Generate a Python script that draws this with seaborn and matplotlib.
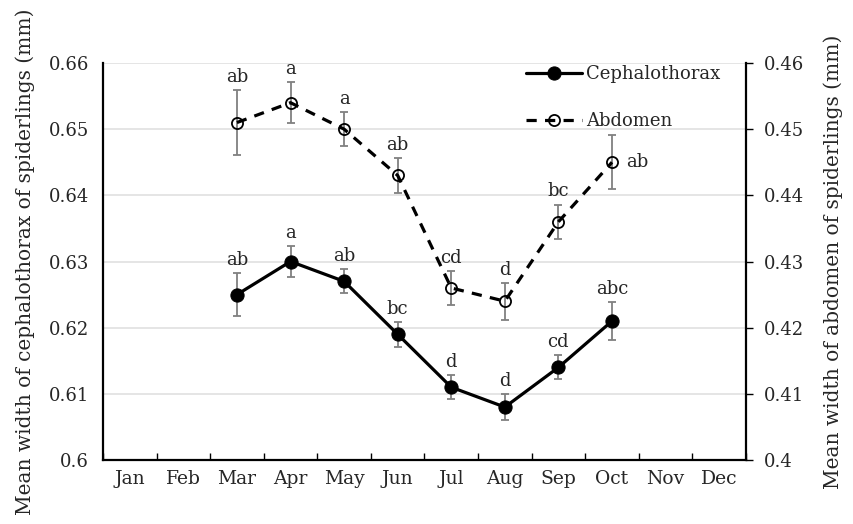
import matplotlib
matplotlib.use("Agg")
import matplotlib.pyplot as plt
import seaborn as sns
import pandas as pd
import numpy as np

months = ["Jan", "Feb", "Mar", "Apr", "May", "Jun", "Jul", "Aug", "Sep", "Oct", "Nov", "Dec"]
data_months = ["Mar", "Apr", "May", "Jun", "Jul", "Aug", "Sep", "Oct"]
ceph_mean = [0.625, 0.630, 0.627, 0.619, 0.611, 0.608, 0.614, 0.621]
ceph_err = [0.0033, 0.0023, 0.0018, 0.0019, 0.0018, 0.0020, 0.0018, 0.0029]
ceph_letters = ["ab", "a", "ab", "bc", "d", "d", "cd", "abc"]
abd_mean = [0.451, 0.454, 0.450, 0.443, 0.426, 0.424, 0.436, 0.445]
abd_err = [0.0049, 0.0031, 0.0026, 0.0026, 0.0025, 0.0028, 0.0026, 0.0041]
abd_letters = ["ab", "a", "a", "ab", "cd", "d", "bc", "ab"]
left_ticks = [0.6, 0.61, 0.62, 0.63, 0.64, 0.65, 0.66]
right_ticks = [0.4, 0.41, 0.42, 0.43, 0.44, 0.45, 0.46]

sns.set_theme(style="white")
plt.rcParams["font.family"] = ["DejaVu Serif"]
plt.rcParams["font.size"] = 10.5

pos = [months.index(m) for m in data_months]
df = pd.DataFrame({"pos": pos, "ceph": ceph_mean, "ceph_err": ceph_err,
                   "abd": abd_mean, "abd_err": abd_err})

fig = plt.figure(figsize=(8.54, 5.24), dpi=100)
ax = fig.add_axes([0.1206, 0.1221, 0.7529, 0.7577])
ax2 = ax.twinx()

# error bars
ax.errorbar(df["pos"], df["ceph"], yerr=df["ceph_err"], fmt="none", ecolor="#808080",
            elinewidth=1.3, capsize=2.6, capthick=1.3, zorder=2)
ax2.errorbar(df["pos"], df["abd"], yerr=df["abd_err"], fmt="none", ecolor="#808080",
             elinewidth=1.3, capsize=2.6, capthick=1.3, zorder=2)

sns.lineplot(data=df, x="pos", y="ceph", ax=ax, color="black", linewidth=2.3,
             marker="o", markersize=9.5, markerfacecolor="black", markeredgecolor="black",
             label="Cephalothorax", legend=False, zorder=3)
sns.lineplot(data=df, x="pos", y="abd", ax=ax2, color="black", linewidth=2.3,
             linestyle=(0, (3.2, 2.6)), marker="o", markersize=8, markerfacecolor="none",
             markeredgecolor="black", markeredgewidth=1.3,
             label="Abdomen", legend=False, zorder=3)

# letters
for p, m, e, t in zip(df["pos"], ceph_mean, ceph_err, ceph_letters):
    ax.annotate(t, (p, m + e), xytext=(0, 3), textcoords="offset points",
                ha="center", va="bottom", fontsize=13)
for i, (p, m, e, t) in enumerate(zip(df["pos"], abd_mean, abd_err, abd_letters)):
    if i == len(abd_mean) - 1:
        ax2.annotate(t, (p, m), xytext=(10, 0), textcoords="offset points",
                     ha="left", va="center", fontsize=13)
    else:
        ax2.annotate(t, (p, m + e), xytext=(0, 3), textcoords="offset points",
                     ha="center", va="bottom", fontsize=13)

ax.set_xlim(-0.5, 11.5)
ax.set_ylim(0.6, 0.66)
ax2.set_ylim(0.4, 0.46)
ax.set_xticks(range(12))
ax.set_xticklabels(months, fontsize=13.5)
ax.set_xticks(np.arange(-0.5, 12, 1), minor=True)
ax.tick_params(axis="x", which="major", length=0, pad=7)
ax.tick_params(axis="x", which="minor", direction="in", length=5, width=1, color="black", bottom=True)
ax.set_yticks(left_ticks)
ax.set_yticklabels([f"{v:g}" for v in left_ticks], fontsize=13)
ax.tick_params(axis="y", length=0, pad=10)
ax2.set_yticks(right_ticks)
ax2.set_yticklabels([f"{v:g}" for v in right_ticks], fontsize=13)
ax2.tick_params(axis="y", direction="out", length=5, width=1, color="black", right=True, pad=8)

ax.yaxis.grid(True, color="#e0e0e0", linewidth=1.2)
ax.set_axisbelow(True)
ax.set_xlabel("")
ax.set_ylabel("Mean width of cephalothorax of spiderlings (mm)", fontsize=14.5, labelpad=10)
ax2.set_ylabel("Mean width of abdomen of spiderlings (mm)", fontsize=14.5, labelpad=14)

for a in (ax, ax2):
    a.spines["top"].set_visible(False)
    for s in ("left", "right", "bottom"):
        a.spines[s].set_color("black")
        a.spines[s].set_linewidth(1.6)
ax.spines["right"].set_visible(False)
ax2.spines["left"].set_visible(False)
ax2.spines["bottom"].set_visible(False)

h1, l1 = ax.get_legend_handles_labels()
h2, l2 = ax2.get_legend_handles_labels()
leg = ax2.legend(h1 + h2, l1 + l2, loc="upper right", bbox_to_anchor=(0.985, 1.035),
                 frameon=False, fontsize=13, handlelength=3.1, labelspacing=1.6,
                 handletextpad=0.2)

fig.savefig("out.png", dpi=100)
